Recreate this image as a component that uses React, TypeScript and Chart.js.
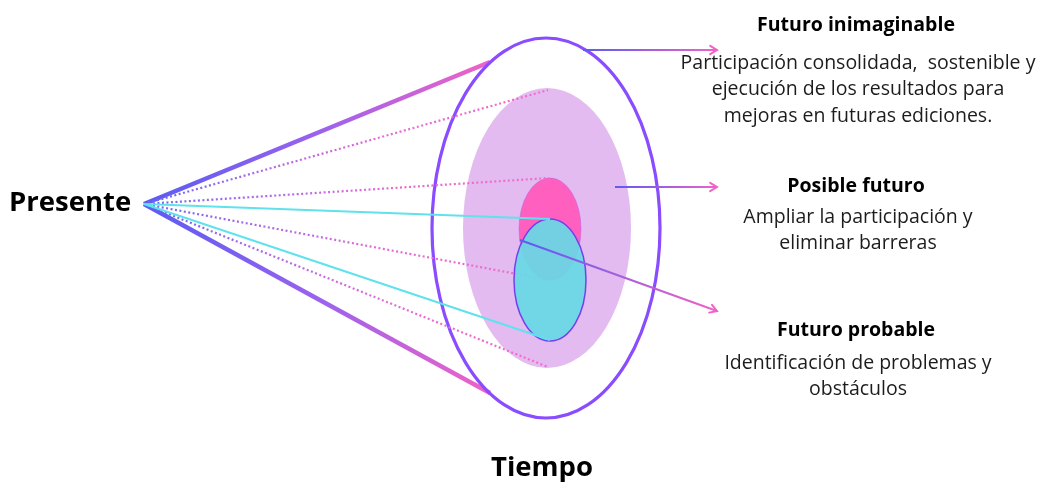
import React, { useEffect, useRef } from "react";
import { Chart, registerables } from "chart.js";

Chart.register(...registerables);

// ---- data (diagram units = pixels of the 1040x484 picture) ----
const apexX = 144;
const apexY = 204;
const coneEndX = [490, 490];
const coneEndY = [62, 393];
const dottedEndX = [548, 549, 549, 548];
const dottedEndY = [90, 178, 280, 367];
const cyanEndX = [550, 550];
const cyanEndY = [219, 340];

const ellipseNames = ["outer", "lavender", "pink", "cyan"];
const ellipseCX = [546, 547, 550, 550];
const ellipseCY = [228, 228, 229, 280];
const ellipseRX = [114, 84, 31, 36];
const ellipseRY = [190, 140, 51, 61];

const arrowStartX = [583, 615, 520];
const arrowStartY = [50, 187, 240];
const arrowEndX = [717, 717, 717];
const arrowEndY = [50, 187, 311];

const leftLabel = "Presente";
const bottomLabel = "Tiempo";
const titles = ["Futuro inimaginable", "Posible futuro", "Futuro probable"];
const descriptions = [
  ["Participación consolidada,  sostenible y", "ejecución de los resultados para", "mejoras en futuras ediciones."],
  ["Ampliar la participación y", "eliminar barreras"],
  ["Identificación de problemas y", "obstáculos"],
];

// ---- layout / style ----
const W = 1040;
const H = 484;
const FONT = '"Open Sans", "Noto Sans", sans-serif';
const textCenterX = 858;
const titleY = [25, 186, 330];
const descY = [[63, 89, 116], [217, 243], [363, 389]];
const BLUE = "#5a5cf2";
const PINK = "#f062c6";

function gradColor(x0: number, y0: number, x1: number, y1: number, stops: [number, string][]) {
  return (ctx: any) => {
    const chart = ctx.chart;
    const xs = chart.scales?.x;
    const ys = chart.scales?.y;
    if (!xs || !ys || !chart.chartArea) return stops[0][1];
    const g = chart.ctx.createLinearGradient(
      xs.getPixelForValue(x0), ys.getPixelForValue(y0),
      xs.getPixelForValue(x1), ys.getPixelForValue(y1)
    );
    stops.forEach(([o, c]) => g.addColorStop(o, c));
    return g;
  };
}

function drawEllipse(chart: any, name: string) {
  const i = ellipseNames.indexOf(name);
  const xs = chart.scales.x;
  const ys = chart.scales.y;
  const cx = xs.getPixelForValue(ellipseCX[i]);
  const cy = ys.getPixelForValue(ellipseCY[i]);
  const rx = Math.abs(xs.getPixelForValue(ellipseCX[i] + ellipseRX[i]) - cx);
  const ry = Math.abs(ys.getPixelForValue(ellipseCY[i] + ellipseRY[i]) - cy);
  const c = chart.ctx;
  c.save();
  c.beginPath();
  c.ellipse(cx, cy, rx, ry, 0, 0, Math.PI * 2);
  if (name === "outer") {
    c.lineWidth = 3.2;
    c.strokeStyle = "#8a4cff";
    c.stroke();
  } else if (name === "lavender") {
    c.fillStyle = "#e3bbf1";
    c.fill();
  } else if (name === "pink") {
    c.fillStyle = "#ff60bf";
    c.fill();
    c.lineWidth = 0.8;
    c.strokeStyle = "rgba(180,90,230,0.6)";
    c.stroke();
  } else if (name === "cyan") {
    c.fillStyle = "rgba(104,216,228,0.93)";
    c.fill();
    c.lineWidth = 1.5;
    c.strokeStyle = "#7440ee";
    c.stroke();
  }
  c.restore();
}

const shapesPlugin = {
  id: "shapes",
  afterDatasetDraw(chart: any, args: any) {
    const ds = chart.data.datasets[args.index];
    if (ds.drawAfter) {
      for (const n of ds.drawAfter) drawEllipse(chart, n);
    }
    if (ds.arrow) {
      const pts = args.meta.data;
      const p1 = pts[pts.length - 1];
      const p0 = pts[pts.length - 2];
      const ang = Math.atan2(p1.y - p0.y, p1.x - p0.x);
      const c = chart.ctx;
      const L = 8;
      c.save();
      c.strokeStyle = PINK;
      c.lineWidth = 2;
      c.lineCap = "round";
      c.beginPath();
      c.moveTo(p1.x - L * Math.cos(ang - 0.55), p1.y - L * Math.sin(ang - 0.55));
      c.lineTo(p1.x, p1.y);
      c.lineTo(p1.x - L * Math.cos(ang + 0.55), p1.y - L * Math.sin(ang + 0.55));
      c.stroke();
      c.restore();
    }
  },
  afterDraw(chart: any) {
    const c = chart.ctx;
    c.save();
    c.fillStyle = "#000";
    c.textBaseline = "middle";
    c.textAlign = "left";
    c.font = `bold 27.5px ${FONT}`;
    c.fillText(leftLabel, 9, 203);
    c.textAlign = "center";
    c.font = `bold 27.5px ${FONT}`;
    c.fillText(bottomLabel, 542, 468);
    titles.forEach((t, i) => {
      c.fillStyle = "#000";
      c.font = `bold 19.5px ${FONT}`;
      c.fillText(t, textCenterX - 2, titleY[i]);
      c.fillStyle = "#1c1c1c";
      c.font = `19.5px ${FONT}`;
      descriptions[i].forEach((d, j) => c.fillText(d, textCenterX, descY[i][j]));
    });
    c.restore();
  },
};

function lineDs(x1: number, y1: number, extra: any) {
  return {
    data: [
      { x: apexX, y: apexY },
      { x: x1, y: y1 },
    ],
    showLine: true,
    pointRadius: 0,
    fill: false,
    ...extra,
  };
}

export default function App() {
  const ref = useRef<HTMLCanvasElement | null>(null);
  useEffect(() => {
    let chart: Chart | null = null;
    let cancelled = false;
    const make = () => {
      if (cancelled || !ref.current) return;
      const datasets: any[] = [];
      coneEndX.forEach((x, i) => {
        datasets.push(
          lineDs(x, coneEndY[i], {
            borderColor: gradColor(apexX, apexY, x, coneEndY[i], [[0, BLUE], [0.5, "#9a62ee"], [1, PINK]]),
            borderWidth: 4.5,
            order: 100 - i,
            drawAfter: i === coneEndX.length - 1 ? ["outer", "lavender", "pink"] : undefined,
          })
        );
      });
      dottedEndX.forEach((x, i) => {
        datasets.push(
          lineDs(x, dottedEndY[i], {
            borderColor: gradColor(apexX, apexY, x, dottedEndY[i], [[0, "#6f66f4"], [0.25, "#a468ea"], [0.6, "#e46cd4"], [1, "#f26ccb"]]),
            borderWidth: 2.2,
            borderDash: [2, 2.5],
            order: 90 - i,
            drawAfter: i === dottedEndX.length - 1 ? ["cyan"] : undefined,
          })
        );
      });
      cyanEndX.forEach((x, i) => {
        datasets.push(
          lineDs(x, cyanEndY[i], {
            borderColor: "#5fe2ec",
            borderWidth: 2,
            order: 80 - i,
          })
        );
      });
      arrowStartX.forEach((x, i) => {
        datasets.push({
          data: [
            { x, y: arrowStartY[i] },
            { x: arrowEndX[i], y: arrowEndY[i] },
          ],
          showLine: true,
          pointRadius: 0,
          fill: false,
          borderColor: gradColor(x, arrowStartY[i], arrowEndX[i], arrowEndY[i], [[0, BLUE], [1, PINK]]),
          borderWidth: 2,
          order: 70 - i,
          arrow: true,
        });
      });
      chart = new Chart(ref.current, {
        type: "scatter",
        data: { datasets },
        options: {
          animation: false,
          responsive: false,
          devicePixelRatio: 1,
          layout: { padding: 0 },
          events: [],
          scales: {
            x: { type: "linear", min: 0, max: W, display: false },
            y: { type: "linear", min: 0, max: H, reverse: true, display: false },
          },
          plugins: { legend: { display: false }, tooltip: { enabled: false } },
        } as any,
        plugins: [shapesPlugin as any],
      });
    };
    const fontsApi: any = (document as any).fonts;
    if (fontsApi && fontsApi.load) {
      Promise.all([
        fontsApi.load(`17px "Open Sans"`),
        fontsApi.load(`bold 17px "Open Sans"`),
      ]).then(make, make);
    } else {
      make();
    }
    return () => {
      cancelled = true;
      if (chart) chart.destroy();
    };
  }, []);
  return (
    <div style={{ position: "fixed", left: 0, top: 0, width: W, height: H, background: "#fff" }}>
      <canvas ref={ref} width={W} height={H} style={{ width: W, height: H }} />
    </div>
  );
}
